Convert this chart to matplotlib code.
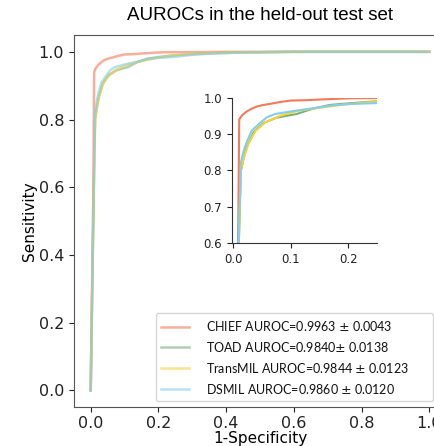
import matplotlib
matplotlib.use("Agg")
import matplotlib.pyplot as plt

models = ["CHIEF", "TOAD", "TransMIL", "DSMIL"]
labels = ["CHIEF AUROC=0.9963 $\\pm$ 0.0043",
          "TOAD AUROC=0.9840$\\pm$ 0.0138",
          "TransMIL AUROC=0.9844 $\\pm$ 0.0123",
          "DSMIL AUROC=0.9860 $\\pm$ 0.0120"]
colors = ["#F27A58", "#78B078", "#F8D23C", "#84CDEB"]

fpr_chief = [0.0, 0.004, 0.008, 0.010, 0.015, 0.023, 0.032, 0.041, 0.052, 0.064, 0.081, 0.099, 0.125, 0.151, 0.197, 0.246, 0.30, 0.40, 1.0]
tpr_chief = [0.0, 0.30, 0.60, 0.940, 0.952, 0.962, 0.970, 0.976, 0.980, 0.983, 0.988, 0.992, 0.993, 0.995, 0.998, 0.999, 0.999, 1.0, 1.0]

fpr_toad = [0.0, 0.006, 0.011, 0.013, 0.018, 0.023, 0.035, 0.052, 0.075, 0.099, 0.110, 0.125, 0.139, 0.168, 0.197, 0.246, 0.30, 0.36, 0.45, 0.60, 1.0]
tpr_toad = [0.0, 0.40, 0.70, 0.800, 0.835, 0.864, 0.905, 0.930, 0.945, 0.952, 0.955, 0.963, 0.970, 0.980, 0.984, 0.990, 0.993, 0.996, 0.998, 1.0, 1.0]

fpr_trans = [0.0, 0.006, 0.011, 0.013, 0.017, 0.026, 0.038, 0.055, 0.081, 0.110, 0.139, 0.168, 0.197, 0.246, 0.30, 0.36, 0.45, 0.60, 1.0]
tpr_trans = [0.0, 0.40, 0.70, 0.800, 0.830, 0.873, 0.908, 0.932, 0.950, 0.963, 0.970, 0.976, 0.982, 0.989, 0.993, 0.996, 0.998, 1.0, 1.0]

fpr_dsmil = [0.0, 0.006, 0.011, 0.013, 0.018, 0.023, 0.032, 0.046, 0.058, 0.072, 0.099, 0.139, 0.168, 0.197, 0.246, 0.30, 0.36, 0.45, 0.60, 1.0]
tpr_dsmil = [0.0, 0.40, 0.72, 0.823, 0.855, 0.878, 0.910, 0.930, 0.946, 0.955, 0.962, 0.971, 0.978, 0.982, 0.985, 0.991, 0.995, 0.998, 1.0, 1.0]

fprs = [fpr_chief, fpr_toad, fpr_trans, fpr_dsmil]
tprs = [tpr_chief, tpr_toad, tpr_trans, tpr_dsmil]

main_ticks = [0.0, 0.2, 0.4, 0.6, 0.8, 1.0]
inset_xticks = [0.0, 0.1, 0.2]
inset_yticks = [0.6, 0.7, 0.8, 0.9, 1.0]

fig = plt.figure(figsize=(4.34, 4.46), dpi=100)
ax = fig.add_axes([0.170, 0.0868, 0.858, 0.835])

handles = []
for f, t, c, lab in zip(fprs, tprs, colors, labels):
    h, = ax.plot(f, t, color=c, alpha=0.6, lw=1.8, label=lab)
    handles.append(h)

ax.set_xlim(-0.05, 1.05)
ax.set_ylim(-0.05, 1.05)
ax.set_xticks(main_ticks)
ax.set_yticks(main_ticks)
ax.tick_params(labelsize=11.5, colors="#222222")
ax.tick_params(axis="x", pad=2.5)
for s in ax.spines.values():
    s.set_color("#555555")
ax.set_xlabel("1-Specificity", fontsize=11, labelpad=0)
ax.set_ylabel("Sensitivity", fontsize=11, labelpad=1)
ax.set_title("AUROCs in the held-out test set", fontsize=13.5,
             family=["Liberation Sans", "DejaVu Sans"], pad=11)

leg = ax.legend(handles=handles, loc="upper left",
                bbox_to_anchor=(0.3587, 0.0, 0.639, 0.2975), bbox_transform=fig.transFigure,
                mode="expand",
                borderaxespad=0, prop={"family": ["Lato", "DejaVu Sans"], "size": 9},
                handlelength=2.2, handletextpad=1.4, labelspacing=0.55,
                frameon=True, borderpad=0.45)
leg.get_frame().set_edgecolor("#cccccc")
for txt in leg.get_texts():
    txt.set_color("#111111")

ins = fig.add_axes([0.534, 0.455, 0.335, 0.326])
for f, t, c in zip(fprs, tprs, colors):
    ins.plot(f, t, color=c, lw=1.5)
ins.set_xlim(-0.003, 0.25)
ins.set_ylim(0.6, 1.0)
ins.set_xticks(inset_xticks)
ins.set_yticks(inset_yticks)
ins.tick_params(labelsize=8.5, colors="#222222")
ins.spines["top"].set_visible(False)
ins.spines["right"].set_visible(False)
ins.spines["left"].set_color("#333333")
ins.spines["bottom"].set_color("#333333")
ins.patch.set_alpha(0)

fig.savefig("out.png", dpi=100)
